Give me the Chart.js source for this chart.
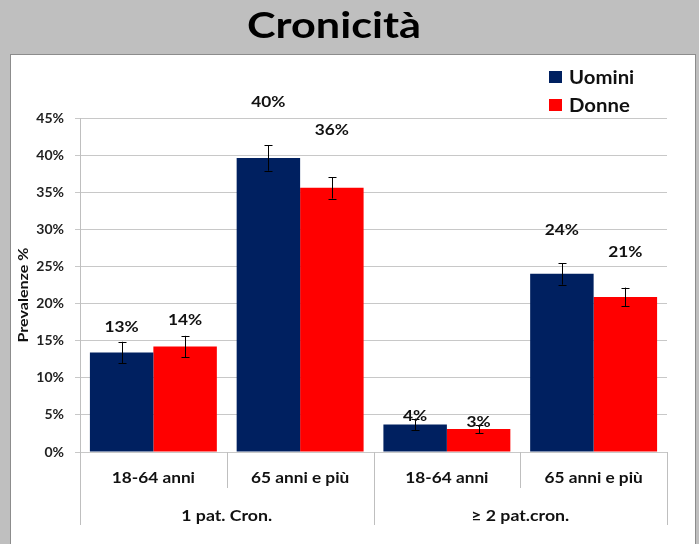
<!DOCTYPE html>
<html><head><meta charset="utf-8">
<script src="https://cdn.jsdelivr.net/npm/chart.js@4/dist/chart.umd.min.js"></script>
<style>html,body{margin:0;padding:0;background:#BFBFBF}#wrap{width:699px;height:544px;position:relative}canvas{display:block}</style>
</head><body><div id="wrap"><canvas id="c" width="699" height="544"></canvas></div>
<script>
const chartTitle = 'Cronicità';
const yAxisTitle = 'Prevalenze %';
const categories = ['18-64 anni', '65 anni e più', '18-64 anni', '65 anni e più'];
const groups = ['1 pat. Cron.', '≥ 2 pat.cron.'];
const groupSpans = [2, 2];
const seriesNames = ['Uomini', 'Donne'];
const uomini = [13.4, 39.6, 3.7, 24.0];
const donne = [14.2, 35.6, 3.1, 20.9];
const uominiErr = [1.45, 1.7, 0.8, 1.45];
const donneErr = [1.45, 1.45, 0.6, 1.25];
const yMin = 0, yMax = 45, yStep = 5;

// label lift above bar top (px) – style only
const labelLift = [[26, 56, 9, 44], [27, 58, 7, 45]];
const errors = [uominiErr, donneErr];
const colors = ['#002060', '#FF0000'];
const FONT = 'Lato';

function txt(ctx, s, x, y, sx, align) {
  ctx.save();
  ctx.translate(x, y); ctx.scale(sx, 1);
  ctx.textAlign = align || 'center';
  ctx.fillText(s, 0, 0);
  ctx.restore();
}

const deco = {
  id: 'deco',
  beforeDraw(c) {
    const ctx = c.ctx;
    ctx.save();
    ctx.fillStyle = '#BFBFBF'; ctx.fillRect(0, 0, 699, 544);
    ctx.fillStyle = '#FFFFFF'; ctx.fillRect(10, 54, 686, 500);
    ctx.strokeStyle = '#8C8C8C'; ctx.lineWidth = 1; ctx.strokeRect(10.5, 54.5, 685, 500);
    ctx.fillStyle = '#000'; ctx.font = 'bold 36px ' + FONT;
    ctx.textBaseline = 'alphabetic';
    txt(ctx, chartTitle, 334, 38, 1.2);
    ctx.restore();
  },
  afterDatasetsDraw(c) {
    const ctx = c.ctx, x = c.scales.x, y = c.scales.y, ca = c.chartArea;
    ctx.save();
    // error bars
    ctx.strokeStyle = '#000'; ctx.lineWidth = 1;
    c.data.datasets.forEach((ds, di) => {
      const meta = c.getDatasetMeta(di);
      meta.data.forEach((bar, i) => {
        const v = ds.data[i], e = errors[di][i];
        const bx = Math.round(bar.x) + 0.5;
        const y1 = y.getPixelForValue(v + e), y2 = y.getPixelForValue(v - e);
        ctx.beginPath();
        ctx.moveTo(bx, y1); ctx.lineTo(bx, y2);
        ctx.moveTo(bx - 4, Math.round(y1) + 0.5); ctx.lineTo(bx + 4, Math.round(y1) + 0.5);
        ctx.moveTo(bx - 4, Math.round(y2) + 0.5); ctx.lineTo(bx + 4, Math.round(y2) + 0.5);
        ctx.stroke();
      });
    });
    // value labels
    ctx.fillStyle = '#111'; ctx.font = 'bold 16px ' + FONT;
    ctx.textBaseline = 'middle';
    c.data.datasets.forEach((ds, di) => {
      const meta = c.getDatasetMeta(di);
      meta.data.forEach((bar, i) => {
        txt(ctx, Math.round(ds.data[i]) + '%', bar.x, bar.y - labelLift[di][i], 1.08);
      });
    });
    // x axis dividers & labels
    const n = categories.length;
    const edge = i => {
      if (i === 0) return ca.left;
      if (i === n) return ca.right;
      return (x.getPixelForValue(i - 1) + x.getPixelForValue(i)) / 2;
    };
    ctx.strokeStyle = '#BFBFBF';
    const groupEdges = [0]; let acc = 0;
    groupSpans.forEach(s => { acc += s; groupEdges.push(acc); });
    for (let i = 0; i <= n; i++) {
      const px = Math.round(edge(i)) + 0.5;
      const long = groupEdges.includes(i);
      ctx.beginPath(); ctx.moveTo(px, ca.bottom); ctx.lineTo(px, long ? 525 : 488); ctx.stroke();
    }
    ctx.fillStyle = '#111'; ctx.font = 'bold 15px ' + FONT;
    categories.forEach((lab, i) => txt(ctx, lab, x.getPixelForValue(i), 478, 1.15));
    groups.forEach((g, gi) => {
      const cx = (edge(groupEdges[gi]) + edge(groupEdges[gi + 1])) / 2;
      txt(ctx, g, cx, 516, 1.18);
    });
    // y title
    ctx.save();
    ctx.translate(23, 295); ctx.rotate(-Math.PI / 2);
    ctx.font = 'bold 14px ' + FONT; txt(ctx, yAxisTitle, 0, 0, 1.15);
    ctx.restore();
    // legend
    ctx.font = 'bold 18px ' + FONT;
    c.data.datasets.forEach((ds, di) => {
      const ly = 77 + di * 28;
      ctx.fillStyle = ds.backgroundColor;
      ctx.fillRect(549, ly - 6, 13, 12);
      ctx.fillStyle = '#111';
      txt(ctx, ds.label, 569, ly + 1, 1.13, 'left');
    });
    ctx.restore();
  }
};

function build() {
  new Chart(document.getElementById('c'), {
    type: 'bar',
    data: {
      labels: categories,
      datasets: [
        { label: seriesNames[0], data: uomini, backgroundColor: colors[0] },
        { label: seriesNames[1], data: donne, backgroundColor: colors[1] }
      ]
    },
    options: {
      responsive: false, animation: false, devicePixelRatio: 1,
      layout: { padding: { left: 0, top: 118, right: 32, bottom: 92 } },
      datasets: { bar: { barPercentage: 1, categoryPercentage: 0.865 } },
      plugins: { legend: { display: false }, tooltip: { enabled: false }, title: { display: false } },
      scales: {
        x: { display: false },
        y: {
          min: yMin, max: yMax,
          afterFit(s) { s.width = 80; },
          border: { display: true, color: '#BFBFBF' },
          grid: { color: '#C8C8C8', tickLength: 5, drawTicks: true },
          ticks: {
            stepSize: yStep, padding: 11, color: '#222',
            font: { family: FONT, size: 14, weight: 'bold' },
            callback: v => v + '%'
          }
        }
      }
    },
    plugins: [deco]
  });
}
Promise.all([
  document.fonts.load('bold 16px ' + FONT),
  document.fonts.load('bold 36px ' + FONT)
]).then(build, build);
</script>
</body></html>
